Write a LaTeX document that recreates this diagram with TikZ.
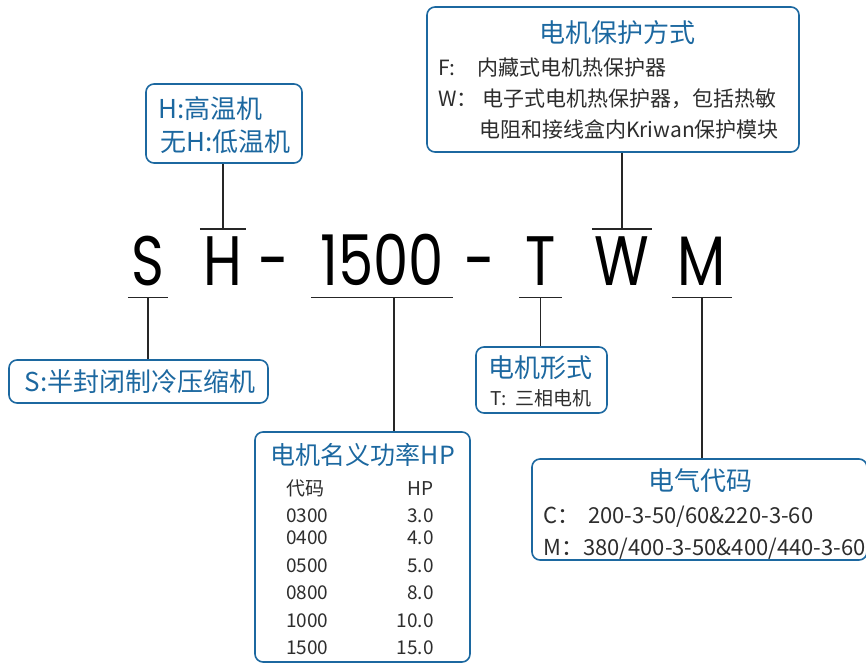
\documentclass[tikz,border=0pt]{standalone}
\usepackage{fontspec}
\newfontfamily\cjk{Noto Sans CJK SC}
\newfontfamily\codefont[FakeStretch=0.8]{Poppins}
\definecolor{boxblue}{RGB}{28,104,160}
\definecolor{txtgray}{RGB}{45,45,45}

\tikzset{
  box/.style={draw=boxblue, line width=1.6pt, rounded corners=8pt, inner sep=0pt},
  code/.style={font=\codefont\fontsize{70}{70}\selectfont, text=black, inner sep=0pt,
               anchor=base, text height=56pt, text depth=12pt},
  bar/.style={line width=1.4pt, draw=black!85},
  lead/.style={line width=1.2pt, draw=black!85},
  title/.style={font=\cjk\fontsize{26}{26}\selectfont, text=boxblue, inner sep=0pt, anchor=base},
  item/.style={font=\cjk\fontsize{19}{19}\selectfont, text=txtgray, inner sep=0pt, anchor=base west},
  bigitem/.style={item, font=\cjk\fontsize{21}{21}\selectfont},
  elitem/.style={item, font=\cjk\fontsize{22}{22}\selectfont},
  num/.style={item, anchor=base east},
}

\begin{document}
\begin{tikzpicture}[x=1pt,y=-1pt]
\useasboundingbox (0,0) rectangle (866,664);

% model code
\node[code, minimum width=40] (S) at (148,285) {S};
\node[code, minimum width=46] (H) at (223,285) {H};
\node[code] (d1) at (274,285) {-};
\node[code, minimum width=142] (n1500) at (382,285) {1500};
\node[code] (d2) at (480,285) {-};
\node[code, minimum width=43] (T) at (540.5,285) {T};
\node[code, minimum width=60] (W) at (622,285) {W};
\node[code, minimum width=60] (M) at (702,285) {M};

% boxes
\node[box, minimum width=372, minimum height=145] (pbox) at (613,79.5) {};
\node[box, minimum width=156, minimum height=79] (hbox) at (224,123.5) {};
\node[box, minimum width=259, minimum height=43] (sbox) at (138.5,381.5) {};
\node[box, minimum width=131, minimum height=66] (tbox) at (541.5,380) {};
\node[box, minimum width=215, minimum height=230] (hpbox) at (362.5,547) {};
\node[box, minimum width=335, minimum height=101] (ebox) at (699.5,509.5) {};

% protection
\node[title] (ptitle) at (617,42) {电机保护方式};
\node[bigitem] (pf) at (438,75) {F:};
\node[bigitem] (pftext) at (477,75) {内藏式电机热保护器};
\node[bigitem] (pw) at (438,106) {W：};
\node[bigitem] (pwtext) at (482,106) {电子式电机热保护器，包括热敏};
\node[bigitem] (pwmore) at (479,137) {电阻和接线盒内Kriwan保护模块};

% temperature
\node[title, anchor=base west] (hhigh) at (158,118) {H:高温机};
\node[title, anchor=base west] (hlow) at (160,151) {无H:低温机};

% compressor
\node[title] (stext) at (140,391) {S:半封闭制冷压缩机};

% motor type
\node[title] (ttitle) at (540,377) {电机形式};
\node[item] (tkey) at (490,405) {T:};
\node[item] (ttext) at (515,405) {三相电机};

% power table
\node[title, font=\cjk\fontsize{25}{25}\selectfont] (hptitle) at (363,464) {电机名义功率HP};
\node[item] (colcode) at (286,495) {代码};
\node[num] (colhp) at (434,495) {HP};
\foreach \c/\v/\y in {0300/3.0/522, 0400/4.0/544, 0500/5.0/572,
                      0800/8.0/599, 1000/10.0/627, 1500/15.0/654}{
  \node[item] (c\c) at (286,\y) {\c};
  \node[num] (v\c) at (434,\y) {\v};
}

% electric code
\node[title] (etitle) at (700,490) {电气代码};
\node[elitem] (ec) at (543,523) {C：};
\node[elitem] (ectext) at (588,523) {200-3-50/60\&220-3-60};
\node[elitem] (em) at (543,555) {M：};
\node[elitem] (emtext) at (583,555) {380/400-3-50\&400/440-3-60};

% bars and leads
\draw[bar] (S.south west) -- (S.south east);
\draw[lead] (S.south) -- (S.south |- sbox.north);
\draw[bar] (H.north west) -- (H.north east);
\draw[lead] (H.north) -- (H.north |- hbox.south);
\draw[bar] (n1500.south west) -- (n1500.south east);
\draw[lead] ([xshift=12pt]n1500.south) -- ([xshift=12pt]n1500.south |- hpbox.north);
\draw[bar] (T.south west) -- (T.south east);
\draw[lead] (T.south) -- (T.south |- tbox.north);
\draw[bar] (W.north west) -- (W.north east);
\draw[lead] (W.north) -- (W.north |- pbox.south);
\draw[bar] (M.south west) -- (M.south east);
\draw[lead] (M.south) -- (M.south |- ebox.north);
\end{tikzpicture}
\end{document}
